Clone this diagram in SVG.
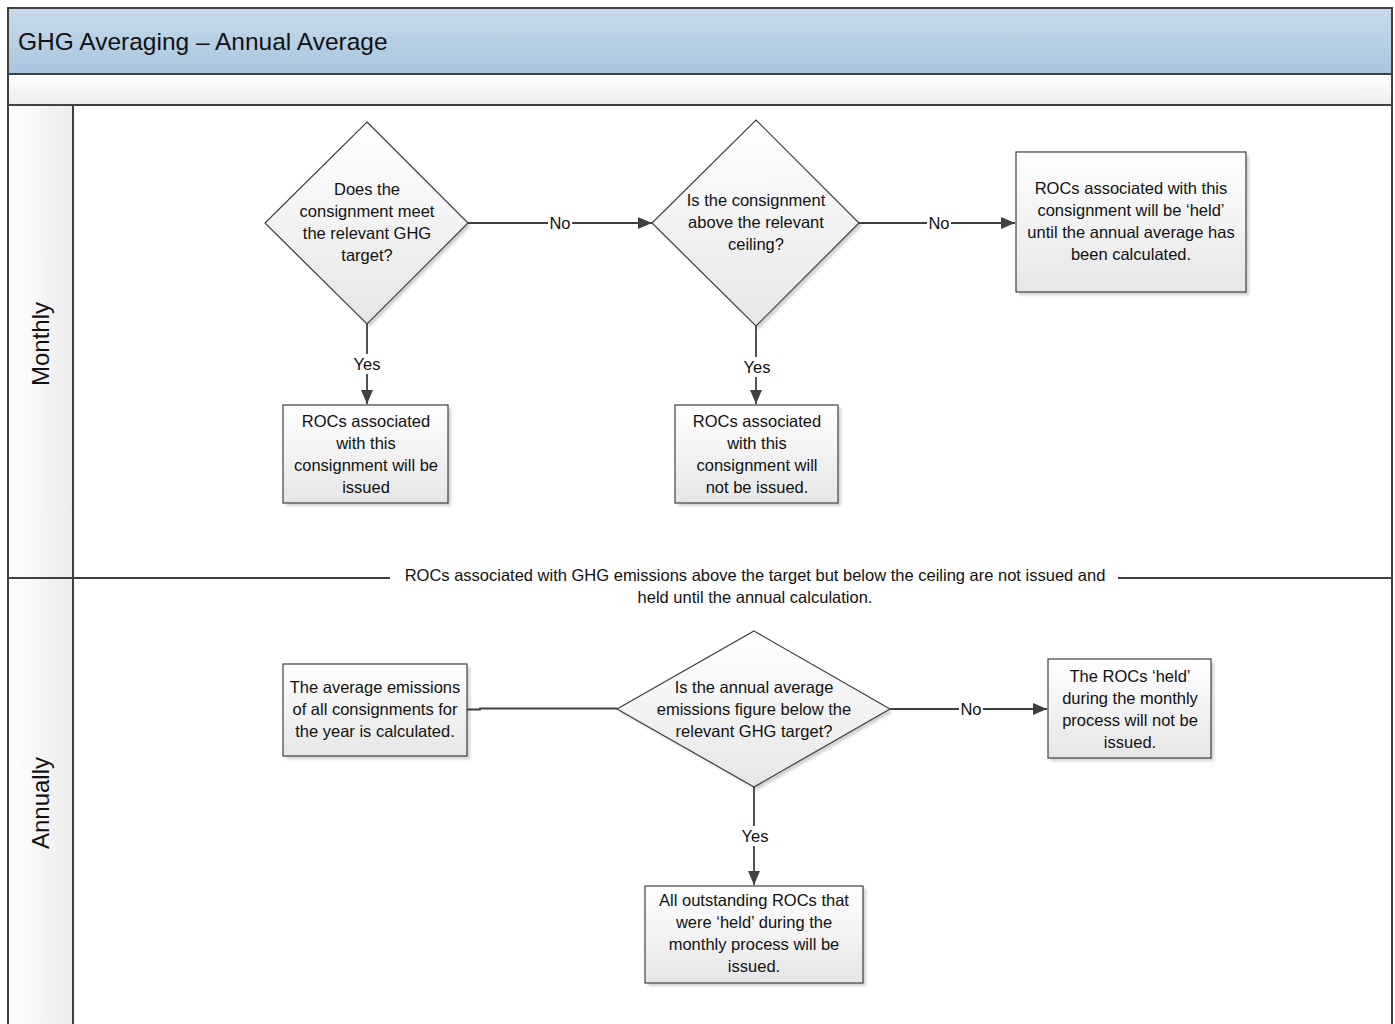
<svg xmlns="http://www.w3.org/2000/svg" width="1395" height="1024" viewBox="0 0 1395 1024">
<style>
.t{font-family:"Liberation Sans",Arial,sans-serif;font-size:16.5px;fill:#111;text-anchor:middle}
.sm{font-family:"Liberation Sans",Arial,sans-serif;font-size:16.5px;fill:#111;text-anchor:middle}
.shape{fill:url(#gFill);stroke:#404040;stroke-width:1.2}
.shadow{fill:#000;opacity:0.18;filter:url(#blur)}
.conn{stroke:#404040;stroke-width:1.8;fill:none}
.lab{fill:#fff}
.frame{stroke:#404040;stroke-width:2;fill:none}
</style>
<defs>
<linearGradient id="gFill" x1="0" y1="0" x2="0" y2="1">
<stop offset="0" stop-color="#ffffff"/>
<stop offset="1" stop-color="#e6e6e6"/>
</linearGradient>
<linearGradient id="gHead" x1="0" y1="0" x2="0" y2="1">
<stop offset="0" stop-color="#c9dbeb"/>
<stop offset="1" stop-color="#a8c5de"/>
</linearGradient>
<linearGradient id="gPhase" x1="0" y1="0" x2="0" y2="1">
<stop offset="0" stop-color="#ffffff"/>
<stop offset="1" stop-color="#ececec"/>
</linearGradient>
<linearGradient id="gLane" x1="0" y1="0" x2="1" y2="0">
<stop offset="0" stop-color="#ffffff"/>
<stop offset="1" stop-color="#ececec"/>
</linearGradient>
<filter id="blur" x="-10%" y="-10%" width="120%" height="120%">
<feGaussianBlur stdDeviation="1.5"/>
</filter>
<marker id="arr" viewBox="0 0 14 12" refX="14" refY="6" markerWidth="14" markerHeight="12" markerUnits="userSpaceOnUse" orient="auto">
<path d="M0,0 L14,6 L0,12 Z" fill="#404040"/>
</marker>
</defs>

<g id="pool">
<rect x="8" y="8" width="1384" height="1030" fill="#ffffff"/>
<rect x="8" y="8" width="1384" height="66" fill="url(#gHead)"/>
<text x="18" y="50" style="font-family:'Liberation Sans',Arial,sans-serif;font-size:24.5px;fill:#111">GHG Averaging – Annual Average</text>
<rect x="8" y="74" width="1384" height="31" fill="url(#gPhase)"/>
<text x="1388" y="96" style="font-family:'Liberation Sans',Arial,sans-serif;font-size:16px;fill:#f7f7f7;text-anchor:end">Phase</text>
<rect x="8" y="105" width="65" height="930" fill="url(#gLane)"/>
<line x1="8" y1="74" x2="1392" y2="74" class="frame"/>
<line x1="8" y1="105" x2="1392" y2="105" class="frame"/>
<line x1="73" y1="105" x2="73" y2="1030" class="frame"/>
<rect x="8" y="8" width="1384" height="1030" class="frame"/>
</g>

<g id="lane-monthly">
<text transform="translate(49,344) rotate(-90)" style="font-family:'Liberation Sans',Arial,sans-serif;font-size:24px;fill:#111;text-anchor:middle">Monthly</text>
</g>
<g id="lane-annually">
<text transform="translate(49,803) rotate(-90)" style="font-family:'Liberation Sans',Arial,sans-serif;font-size:24px;fill:#111;text-anchor:middle">Annually</text>
</g>

<g id="separator">
<line x1="8" y1="578" x2="390" y2="578" class="frame"/>
<line x1="1118" y1="578" x2="1392" y2="578" class="frame"/>
<text x="755" y="581" class="sm">ROCs associated with GHG emissions above the target but below the ceiling are not issued and</text>
<text x="755" y="603" class="sm">held until the annual calculation.</text>
</g>

<g id="connectors">
<line x1="468" y1="223" x2="652" y2="223" class="conn" marker-end="url(#arr)"/>
<line x1="859" y1="223" x2="1015" y2="223" class="conn" marker-end="url(#arr)"/>
<line x1="367" y1="324" x2="367" y2="404" class="conn" marker-end="url(#arr)"/>
<line x1="756" y1="326" x2="756" y2="404" class="conn" marker-end="url(#arr)"/>
<polyline points="467,709.5 480,709.5 480,708.5 617,708.5" class="conn"/>
<line x1="890" y1="709" x2="1047" y2="709" class="conn" marker-end="url(#arr)"/>
<line x1="754" y1="787" x2="754" y2="885" class="conn" marker-end="url(#arr)"/>
<rect x="548" y="214" width="24" height="18" class="lab"/>
<text x="560" y="229" class="t">No</text>
<rect x="927" y="214" width="24" height="18" class="lab"/>
<text x="939" y="229" class="t">No</text>
<rect x="351" y="354" width="32" height="20" class="lab"/>
<text x="367" y="370" class="t">Yes</text>
<rect x="740" y="357" width="32" height="20" class="lab"/>
<text x="757" y="373" class="t">Yes</text>
<rect x="959" y="700" width="24" height="18" class="lab"/>
<text x="971" y="715" class="t">No</text>
<rect x="739" y="826" width="32" height="20" class="lab"/>
<text x="755" y="842" class="t">Yes</text>
</g>

<g id="d1">
<polygon points="370,125 471,226 370,327 268,226" class="shadow"/>
<polygon points="367,122 468,223 367,324 265,223" class="shape"/>
<text x="367" y="195" class="t">Does the</text>
<text x="367" y="217" class="t">consignment meet</text>
<text x="367" y="239" class="t">the relevant GHG</text>
<text x="367" y="261" class="t">target?</text>
</g>

<g id="d2">
<polygon points="759,123 862,226 759,329 655,226" class="shadow"/>
<polygon points="756,120 859,223 756,326 652,223" class="shape"/>
<text x="756" y="206" class="t">Is the consignment</text>
<text x="756" y="228" class="t">above the relevant</text>
<text x="756" y="250" class="t">ceiling?</text>
</g>

<g id="b-held">
<rect x="1019" y="155" width="230" height="140" class="shadow"/>
<rect x="1016" y="152" width="230" height="140" class="shape"/>
<text x="1131" y="194" class="t">ROCs associated with this</text>
<text x="1131" y="216" class="t">consignment will be ‘held’</text>
<text x="1131" y="238" class="t">until the annual average has</text>
<text x="1131" y="260" class="t">been calculated.</text>
</g>

<g id="b-issued">
<rect x="286" y="408" width="165" height="98" class="shadow"/>
<rect x="283" y="405" width="165" height="98" class="shape"/>
<text x="366" y="427" class="t">ROCs associated</text>
<text x="366" y="449" class="t">with this</text>
<text x="366" y="471" class="t">consignment will be</text>
<text x="366" y="493" class="t">issued</text>
</g>

<g id="b-notissued">
<rect x="678" y="408" width="163" height="98" class="shadow"/>
<rect x="675" y="405" width="163" height="98" class="shape"/>
<text x="757" y="427" class="t">ROCs associated</text>
<text x="757" y="449" class="t">with this</text>
<text x="757" y="471" class="t">consignment will</text>
<text x="757" y="493" class="t">not be issued.</text>
</g>

<g id="b-average">
<rect x="286" y="667" width="184" height="92" class="shadow"/>
<rect x="283" y="664" width="184" height="92" class="shape"/>
<text x="375" y="693" class="t">The average emissions</text>
<text x="375" y="715" class="t">of all consignments for</text>
<text x="375" y="737" class="t">the year is calculated.</text>
</g>

<g id="d3">
<polygon points="757,634 893,712 757,790 620,712" class="shadow"/>
<polygon points="754,631 890,709 754,787 617,709" class="shape"/>
<text x="754" y="693" class="t">Is the annual average</text>
<text x="754" y="715" class="t">emissions figure below the</text>
<text x="754" y="737" class="t">relevant GHG target?</text>
</g>

<g id="b-notissued2">
<rect x="1051" y="662" width="163" height="99" class="shadow"/>
<rect x="1048" y="659" width="163" height="99" class="shape"/>
<text x="1130" y="682" class="t">The ROCs ‘held’</text>
<text x="1130" y="704" class="t">during the monthly</text>
<text x="1130" y="726" class="t">process will not be</text>
<text x="1130" y="748" class="t">issued.</text>
</g>

<g id="b-outstanding">
<rect x="648" y="889" width="218" height="97" class="shadow"/>
<rect x="645" y="886" width="218" height="97" class="shape"/>
<text x="754" y="906" class="t">All outstanding ROCs that</text>
<text x="754" y="928" class="t">were ‘held’ during the</text>
<text x="754" y="950" class="t">monthly process will be</text>
<text x="754" y="972" class="t">issued.</text>
</g>
</svg>
